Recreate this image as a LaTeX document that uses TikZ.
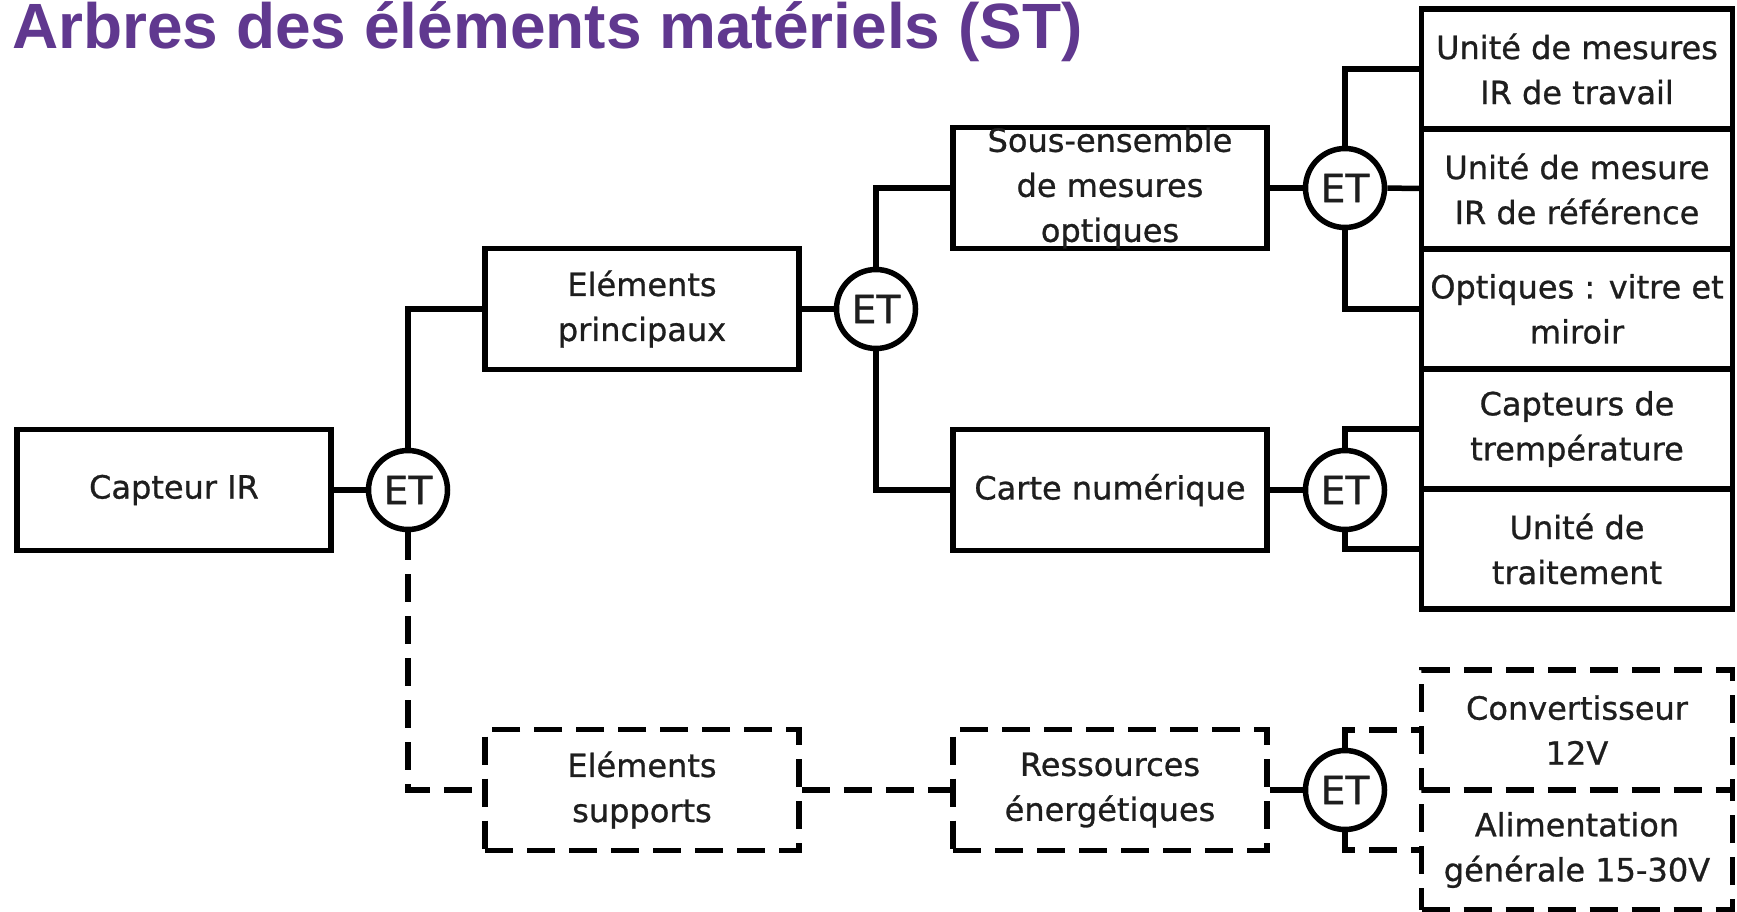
\documentclass[tikz,border=0pt]{standalone}
\usepackage{fontspec}
\usepackage{xcolor}
\newfontfamily\boitefont[FakeBold=0.8]{DejaVu Sans}
\newfontfamily\titrefont{Liberation Sans}
\definecolor{titreviolet}{RGB}{96,56,143}
\definecolor{texte}{RGB}{30,30,30}

\begin{document}
\begin{tikzpicture}[x=1pt,y=-1pt,
        boite/.style={draw,rectangle,line width=5.5pt,minimum width=314pt,minimum height=121pt,inner sep=0pt,align=center,text=texte,font=\boitefont\fontsize{32}{45}\selectfont},
        boitept/.style={boite,dash pattern=on 28pt off 14pt},
        et/.style={draw,circle,fill=white,line width=5.5pt,minimum size=79pt,inner sep=0pt,text=texte,font=\boitefont\fontsize{39}{39}\selectfont},
        lien/.style={line width=5.5pt},
        lienpt/.style={lien,dash pattern=on 28pt off 14pt}]
        \fill[white] (0,0) rectangle (1737,911);
        \useasboundingbox (0,0) rectangle (1737,911);
        \node[anchor=base west,inner sep=0pt,text=titreviolet,font=\titrefont\bfseries\fontsize{64}{64}\selectfont] (titre) at (12,48) {Arbres des éléments matériels (ST)};

        \node[boite] (capteur) at (174,490) {Capteur IR};
        \node[et] (et1) at (408,490) {ET};
        \node[boite] (principaux) at (642,309) {Eléments\\principaux};
        \node[boitept] (supports) at (642,790) {Eléments\\supports};
        \node[et] (et2) at (876,309) {ET};
        \node[boite] (optiques) at (1110,188) {Sous-ensemble\\de mesures\\optiques};
        \node[boite] (carte) at (1110,490) {Carte numérique};
        \node[boitept] (ressources) at (1110,790) {Ressources\\énergétiques};
        \node[et] (et3) at (1345,188) {ET};
        \node[et] (et4) at (1345,490) {ET};
        \node[et] (et5) at (1345,790) {ET};

        \node[boite,minimum width=311pt,minimum height=120pt] (travail) at (1577,69) {Unité de mesures\\IR de travail};
        \node[boite,minimum width=311pt,minimum height=120pt] (reference) at (1577,189) {Unité de mesure\\IR de référence};
        \node[boite,minimum width=311pt,minimum height=120pt] (vitre) at (1577,309) {Optiques : vitre et\\miroir};
        \node[boite,minimum width=311pt,minimum height=120pt] (temperature) at (1577,429) {Capteurs de\\trempérature};
        \node[boite,minimum width=311pt,minimum height=120pt] (traitement) at (1577,549) {Unité de\\traitement};
        \node[boitept,minimum width=311pt,minimum height=120pt] (convertisseur) at (1577,730) {Convertisseur\\12V};
        \node[boitept,minimum width=311pt,minimum height=120pt] (alimentation) at (1577,850) {Alimentation\\générale 15-30V};

        \draw[lien] (capteur) -- (et1);
        \draw[lien] (et1) |- (principaux);
        \draw[lienpt] (et1) |- (supports);
        \draw[lien] (principaux) -- (et2);
        \draw[lien] (et2) |- (optiques);
        \draw[lien] (et2) |- (carte);
        \draw[lien] (optiques) -- (et3);
        \draw[lien] (et3) |- (travail);
        \draw[lien] (et3) -- (reference);
        \draw[lien] (et3) |- (vitre);
        \draw[lien] (carte) -- (et4);
        \draw[lien] (et4) |- (temperature);
        \draw[lien] (et4) |- (traitement);
        \draw[lienpt] (supports) -- (ressources);
        \draw[lien] (ressources) -- (et5);
        \draw[lienpt] (et5) |- (convertisseur);
        \draw[lienpt] (et5) |- (alimentation);
    \end{tikzpicture}
\end{document}
